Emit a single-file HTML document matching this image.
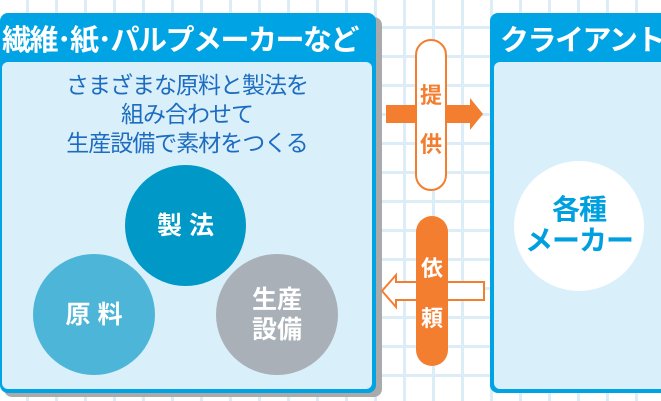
<!DOCTYPE html>
<html><head><meta charset="utf-8"><style>
*{margin:0;padding:0;box-sizing:border-box}
body{width:661px;height:401px;overflow:hidden;position:relative;background:#fff;font-family:"Liberation Sans","Noto Sans CJK JP",sans-serif;
background-image:linear-gradient(90deg,#dcedf8 3px,transparent 3px),linear-gradient(#dcedf8 3px,transparent 3px);background-size:29px 29px;background-position:26px 0,0 26px}
.abs{position:absolute}
.panel{background:#00a3e4;border-radius:8px}
.inner{background:#d9f0fb;border-radius:6px}
.ttl{color:#fff;font-weight:bold;font-size:29px;white-space:nowrap;letter-spacing:-1.5px}
.circ{border-radius:50%;color:#fff;font-weight:bold;display:flex;align-items:center;justify-content:center;text-align:center;line-height:1.2}
</style></head><body>
<div class="abs" style="left:4px;top:17px;width:378px;height:380px;background:#aaa;border-radius:8px"></div>
<div class="abs panel" style="left:0;top:13px;width:376px;height:380px"></div>
<div class="abs ttl" style="left:2px;top:17px">繊維･紙･パルプメーカーなど</div>
<div class="abs inner" style="left:2px;top:62px;width:370px;height:327px"></div>
<div class="abs" style="left:2px;top:71px;width:370px;text-align:center;color:#1d6cc0;font-size:23px;line-height:29px;letter-spacing:-1px">さまざまな原料と製法を<br>組み合わせて<br>生産設備で素材をつくる</div>
<div class="abs circ" style="left:125px;top:165px;width:121px;height:121px;background:#0098c6;font-size:25px">製 法</div>
<div class="abs circ" style="left:33px;top:254px;width:122px;height:121px;background:#4db6d8;font-size:25px">原 料</div>
<div class="abs circ" style="left:216px;top:254px;width:122px;height:121px;background:#a9b0b8;font-size:25px">生産<br>設備</div>

<div class="abs panel" style="left:490px;top:13px;width:180px;height:380px"></div>
<div class="abs ttl" style="left:500px;top:17px">クライアント</div>
<div class="abs inner" style="left:494px;top:62px;width:180px;height:327px"></div>
<div class="abs circ" style="left:514px;top:161px;width:130px;height:130px;background:#fff;color:#00a0e0;font-size:28px;line-height:1.1;letter-spacing:-1px">各種<br>メーカー</div>

<svg class="abs" style="left:0;top:0" width="661" height="401">
<polygon points="386,105 470,105 470,98 483,114 470,130 470,123 386,123" fill="#f47e30"/>
<rect x="416" y="40" width="30" height="150" rx="15" fill="#fff" stroke="#f47e30" stroke-width="2"/>
<polygon points="484,282 396,282 396,275 382,291 396,307 396,300 484,300" fill="#fff" stroke="#f47e30" stroke-width="2"/>
<rect x="416" y="216" width="32" height="150" rx="16" fill="#f47e30"/>
<text x="431" y="103" fill="#f47e30" font-size="22" font-weight="bold" text-anchor="middle" font-family="Liberation Sans,Noto Sans CJK JP,sans-serif">提</text>
<text x="431" y="152" fill="#f47e30" font-size="22" font-weight="bold" text-anchor="middle" font-family="Liberation Sans,Noto Sans CJK JP,sans-serif">供</text>
<text x="432" y="276" fill="#fff" font-size="22" font-weight="bold" text-anchor="middle" font-family="Liberation Sans,Noto Sans CJK JP,sans-serif">依</text>
<text x="432" y="326" fill="#fff" font-size="22" font-weight="bold" text-anchor="middle" font-family="Liberation Sans,Noto Sans CJK JP,sans-serif">頼</text>
</svg>
</body></html>
